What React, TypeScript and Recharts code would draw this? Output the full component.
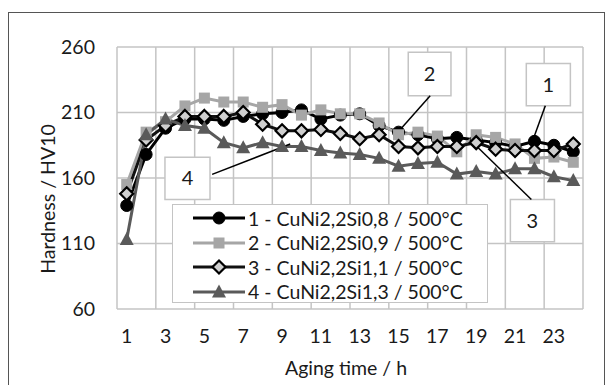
import React from 'react';
import {
  LineChart,
  Line,
  XAxis,
  YAxis,
  CartesianGrid,
  Legend,
  ReferenceArea,
  ReferenceLine,
} from 'recharts';

// Aging time (h)
const hours = [1, 2, 3, 4, 5, 6, 7, 8, 9, 10, 11, 12, 13, 14, 15, 16, 17, 18, 19, 20, 21, 22, 23, 24];

// Hardness HV10 per alloy
const cuNiSi08 = [139, 178, 198, 205, 205, 204, 207, 209, 210, 212, 205, 208, 209, 200, 195, 193, 190, 191, 189, 187, 184, 188, 185, 180];
const cuNiSi09 = [155, 195, 203, 215, 221, 218, 218, 214, 216, 208, 212, 209, 209, 202, 193, 195, 192, 180, 193, 191, 186, 175, 176, 172];
const cuNiSi11 = [148, 189, 200, 207, 207, 207, 210, 201, 196, 196, 197, 194, 190, 193, 184, 183, 184, 184, 187, 182, 181, 181, 181, 186];
const cuNiSi13 = [113, 193, 205, 200, 198, 187, 183, 187, 184, 184, 181, 179, 178, 175, 169, 171, 172, 163, 165, 163, 167, 167, 161, 158];

const xTicks = [1, 3, 5, 7, 9, 11, 13, 15, 17, 19, 21, 23];
const yTicks = [60, 110, 160, 210, 260];
const gridX = [0.5, 1.5, 2.5, 3.5, 4.5, 5.5, 6.5, 7.5, 8.5, 9.5, 10.5, 11.5, 12.5, 13.5, 14.5, 15.5, 16.5, 17.5, 18.5, 19.5, 20.5, 21.5, 22.5, 23.5, 24.5];

const seriesNames = [
  '1 - CuNi2,2Si0,8 / 500°C',
  '2 - CuNi2,2Si0,9 / 500°C',
  '3 - CuNi2,2Si1,1 / 500°C',
  '4 - CuNi2,2Si1,3 / 500°C',
];

// callout boxes (data units) and their leader lines
const calloutLabels = ['1', '2', '3', '4'];
const calloutBoxes = [
  { x1: 21.58, x2: 23.85, y1: 215.2, y2: 247.5 },
  { x1: 15.5, x2: 17.7, y1: 222.8, y2: 256 },
  { x1: 20.76, x2: 23.03, y1: 111.3, y2: 143.6 },
  { x1: 2.97, x2: 5.29, y1: 143.6, y2: 175.9 },
];
const calloutLeaders = [
  [{ x: 22.56, y: 215.2 }, { x: 21.94, y: 189.8 }],
  [{ x: 16.63, y: 222.8 }, { x: 14.93, y: 194.4 }],
  [{ x: 21.84, y: 143.6 }, { x: 18.85, y: 186.7 }],
  [{ x: 5.4, y: 162.8 }, { x: 9.42, y: 185.9 }],
];

const data = hours.map((t, i) => ({
  t,
  s1: cuNiSi08[i],
  s2: cuNiSi09[i],
  s3: cuNiSi11[i],
  s4: cuNiSi13[i],
}));

const FONT = 'Lato, "Open Sans", sans-serif';

const colors = ['#000000', '#a6a6a6', '#111111', '#5a5a5a'];

// marker shapes
const markCircle = (cx: number, cy: number) => <circle cx={cx} cy={cy} r={6} fill="#000" stroke="#000" strokeWidth={1} />;
const markSquare = (cx: number, cy: number) => <rect x={cx - 5.5} y={cy - 5.5} width={11} height={11} fill="#a6a6a6" />;
const markDiamond = (cx: number, cy: number) => (
  <polygon
    points={`${cx},${cy - 6.5} ${cx + 6.5},${cy} ${cx},${cy + 6.5} ${cx - 6.5},${cy}`}
    fill="#cfcfcf"
    stroke="#000"
    strokeWidth={2.2}
  />
);
const markTriangle = (cx: number, cy: number) => (
  <polygon points={`${cx},${cy - 7.5} ${cx + 7},${cy + 5.5} ${cx - 7},${cy + 5.5}`} fill="#5a5a5a" />
);
const markers = [markCircle, markSquare, markDiamond, markTriangle];

const dotFor = (idx: number) => (props: any) => {
  const { cx, cy, index } = props;
  if (cx == null || cy == null) return <g key={`d${idx}-${index}`} />;
  return <g key={`d${idx}-${index}`}>{markers[idx](cx, cy)}</g>;
};

const LegendBox = () => (
  <div
    style={{
      width: 316,
      height: 99,
      background: '#fff',
      border: '1.5px solid #c4c4c4',
      fontFamily: FONT,
      fontSize: 19.5,
      color: '#1a1a1a',
      boxSizing: 'border-box',
      paddingTop: 1,
    }}
  >
    {seriesNames.map((name, i) => (
      <div key={name} style={{ display: 'flex', alignItems: 'center', height: 24.5 }}>
        <svg width={75} height={20} style={{ flex: 'none' }}>
          <line x1={20} y1={10} x2={72} y2={10} stroke={colors[i]} strokeWidth={3} />
          {markers[i](46, 10)}
        </svg>
        <span style={{ whiteSpace: 'nowrap' }}>{name}</span>
      </div>
    ))}
  </div>
);

const YLabel = (props: any) => {
  const { viewBox } = props;
  const cx = viewBox.x + 47;
  const cy = viewBox.y + viewBox.height / 2 + 21;
  return (
    <text
      x={cx}
      y={cy}
      transform={`rotate(-90, ${cx}, ${cy})`}
      textAnchor="middle"
      dominantBaseline="central"
      fontFamily={FONT}
      fontSize={19.5}
      fill="#1a1a1a"
    >
      Hardness / HV10
    </text>
  );
};

export default function App() {
  const tickStyle = { fontFamily: FONT, fontSize: 19.5, fill: '#1a1a1a' };
  return (
    <div style={{ position: 'absolute', left: 0, top: 0, width: 610, height: 385, background: '#fff', overflow: 'hidden' }}>
      <div
        style={{
          position: 'absolute',
          left: 8,
          top: 12,
          width: 597,
          height: 390,
          border: '1.5px solid #555',
          boxSizing: 'border-box',
        }}
      />
      <LineChart width={610} height={385} data={data} margin={{ top: 47, right: 27, bottom: 0, left: 0 }}>
        <XAxis xAxisId="grid" type="number" dataKey="t" domain={[0.5, 24.5]} ticks={gridX} hide />
        <CartesianGrid xAxisId="grid" stroke="#c4c4c4" strokeWidth={1.5} />
        <XAxis
          type="number"
          dataKey="t"
          domain={[0.5, 24.5]}
          ticks={xTicks}
          interval={0}
          height={76}
          axisLine={false}
          tickLine={false}
          tickSize={0}
          tickMargin={20}
          tick={tickStyle}
          label={{ value: 'Aging time / h', position: 'insideBottom', offset: 10, dx: -4, style: { fontFamily: FONT, fontSize: 19.5, fill: '#1a1a1a' } }}
        />
        <YAxis
          type="number"
          domain={[60, 260]}
          ticks={yTicks}
          width={117}
          axisLine={false}
          tickLine={false}
          tickSize={0}
          tickMargin={22}
          tick={tickStyle}
          label={<YLabel />}
        />
        <Line type="linear" dataKey="s1" stroke={colors[0]} strokeWidth={3} dot={dotFor(0)} activeDot={false} isAnimationActive={false} />
        <Line type="linear" dataKey="s2" stroke={colors[1]} strokeWidth={3} dot={dotFor(1)} activeDot={false} isAnimationActive={false} />
        <Line type="linear" dataKey="s3" stroke={colors[2]} strokeWidth={3} dot={dotFor(2)} activeDot={false} isAnimationActive={false} />
        <Line type="linear" dataKey="s4" stroke={colors[3]} strokeWidth={3} dot={dotFor(3)} activeDot={false} isAnimationActive={false} />

        {calloutLeaders.map((seg, i) => (
          <ReferenceLine key={`l${i}`} segment={seg} stroke="#000" strokeWidth={1.5} ifOverflow="visible" />
        ))}
        {calloutBoxes.map((b, i) => (
          <ReferenceArea
            key={`b${i}`}
            x1={b.x1}
            x2={b.x2}
            y1={b.y1}
            y2={b.y2}
            fill="#fff"
            fillOpacity={1}
            stroke="#c4c4c4"
            strokeWidth={1.5}
            ifOverflow="visible"
            label={{ value: calloutLabels[i], position: 'center', style: { fontFamily: FONT, fontSize: 20, fill: '#1a1a1a' } }}
          />
        ))}

        <Legend
          layout="vertical"
          align="center"
          verticalAlign="middle"
          content={() => <LegendBox />}
          wrapperStyle={{ position: 'absolute', left: 172, top: 204, width: 316, height: 99 }}
        />
      </LineChart>
    </div>
  );
}
